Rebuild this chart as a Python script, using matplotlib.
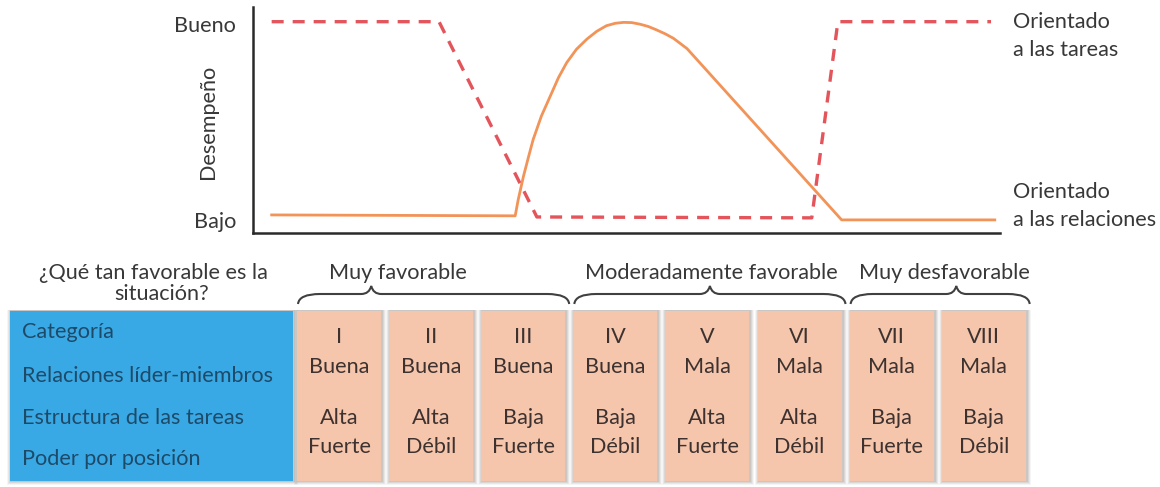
import matplotlib
matplotlib.use("Agg")
import matplotlib.pyplot as plt
from matplotlib.patches import Rectangle, PathPatch
from matplotlib.path import Path

plt.rcParams['font.family'] = ['Lato', 'DejaVu Sans']

# ---------------- data ----------------
# Performance curves (x: favorability position 0-100, y: performance 0-100)
task_x = [2.5, 24.9, 38.0, 74.8, 78.3, 98.8]
task_y = [93.5, 93.5, 7.1, 6.7, 93.5, 93.5]

rel_x = [2.5, 35.1, 35.5, 36.2, 36.9, 37.5, 38.6, 39.8, 40.9, 42.0, 43.3, 44.7,
         46.0, 47.3, 48.5, 49.6, 50.7, 51.8, 52.9, 54.0, 55.2, 56.3, 58.1, 78.8, 99.3]
rel_y = [8.0, 7.6, 14.7, 25.0, 33.9, 41.3, 51.7, 60.6, 68.8, 75.4, 81.3, 85.8,
         89.2, 91.7, 92.8, 93.2, 93.1, 92.4, 91.4, 89.9, 88.1, 86.1, 81.6, 5.8, 5.8]

perf_ticks = [5.8, 92.4]
perf_labels = ['Bajo', 'Bueno']

task_label = ['Orientado', 'a las tareas']
rel_label = ['Orientado', 'a las relaciones']

question = ['¿Qué tan favorable es la', 'situación?']
row_labels = ['Categoría', 'Relaciones líder-miembros',
              'Estructura de las tareas', 'Poder por posición']
categories = ['I', 'II', 'III', 'IV', 'V', 'VI', 'VII', 'VIII']
relaciones = ['Buena', 'Buena', 'Buena', 'Buena', 'Mala', 'Mala', 'Mala', 'Mala']
estructura = ['Alta', 'Alta', 'Baja', 'Baja', 'Alta', 'Alta', 'Baja', 'Baja']
poder = ['Fuerte', 'Débil', 'Fuerte', 'Débil', 'Fuerte', 'Débil', 'Fuerte', 'Débil']
groups = ['Muy favorable', 'Moderadamente favorable', 'Muy desfavorable']
group_cols = [(0, 2), (3, 5), (6, 7)]

# ---------------- styles ----------------
W, H = 1160, 487
TASK_C = '#E3545B'
REL_C = '#F29358'
BLUE = '#38A9E4'
PINK = '#F5C6AC'
TXT = '#383838'
BLUE_TXT = '#1E4A6A'
COL_TXT = '#3D3230'
FS = 15.6

fig = plt.figure(figsize=(W / 100, H / 100), dpi=100)
fig.patch.set_facecolor('white')

# ---------------- top chart ----------------
ax = fig.add_axes([253 / W, (H - 233) / H, 747 / W, 226 / H])
ax.set_xlim(0, 100)
ax.set_ylim(0, 100)
ax.set_facecolor('none')
for s in ['top', 'right']:
    ax.spines[s].set_visible(False)
for s in ['left', 'bottom']:
    ax.spines[s].set_linewidth(1.8)
    ax.spines[s].set_color('#2a2a2a')
ax.set_xticks([])
ax.set_yticks(perf_ticks)
ax.set_yticklabels(perf_labels, fontsize=FS, color=TXT)
ax.tick_params(axis='y', length=0, pad=12)
ax.set_ylabel('Desempeño', fontsize=FS, color=TXT)
ax.yaxis.set_label_coords(-0.047, 0.49)

ax.plot(task_x, task_y, color=TASK_C, lw=2.4, dashes=(3.6, 2.7), clip_on=False)
ax.plot(rel_x, rel_y, color=REL_C, lw=2.0, clip_on=False, solid_joinstyle='round')

ax.text(101.7, 93.5, task_label[0], fontsize=FS, color=TXT, va='center', ha='left', clip_on=False)
ax.text(101.7, 81.0, task_label[1], fontsize=FS, color=TXT, va='center', ha='left', clip_on=False)
ax.text(101.7, 18.2, rel_label[0], fontsize=FS, color=TXT, va='center', ha='left', clip_on=False)
ax.text(101.7, 5.8, rel_label[1], fontsize=FS, color=TXT, va='center', ha='left', clip_on=False)

# ---------------- bottom table ----------------
bx = fig.add_axes([0, 0, 1, 1])
bx.set_xlim(0, W)
bx.set_ylim(H, 0)
bx.axis('off')
bx.set_facecolor('none')

top, bot = 311, 481

def shadow(x, y, w, h):
    for d, a in [(4, 0.08), (3, 0.12), (2, 0.16), (1, 0.20)]:
        bx.add_patch(Rectangle((x - d + 1, y - 1), w + 2 * d, h + d + 1,
                               facecolor='#8c8480', alpha=a, edgecolor='none', zorder=1))

# blue label box
shadow(10, top, 283, bot - top)
bx.add_patch(Rectangle((10, top), 283, bot - top, facecolor=BLUE, edgecolor='none', zorder=2))
row_y = [332, 376, 418, 459]
for lab, yy in zip(row_labels, row_y):
    bx.text(22, yy, lab, fontsize=FS, color=BLUE_TXT, va='center', ha='left', zorder=3)

# question
bx.text(153, 273, question[0], fontsize=FS, color=TXT, va='center', ha='center')
bx.text(162, 294, question[1], fontsize=FS, color=TXT, va='center', ha='center')

col_x0, pitch, cw = 297, 92.1, 84
val_y = [337, 367, 418, 447]
for i in range(len(categories)):
    x = col_x0 + i * pitch
    shadow(x, top, cw, bot - top)
    bx.add_patch(Rectangle((x, top), cw, bot - top, facecolor=PINK, edgecolor='none', zorder=2))
    cx = x + cw / 2
    for txt, yy in zip([categories[i], relaciones[i], estructura[i], poder[i]], val_y):
        bx.text(cx, yy, txt, fontsize=FS, color=COL_TXT, va='center', ha='center', zorder=3)

def brace(x0, x1, xt, yl=294, ye=304, yt=286):
    verts = [(x0, ye), (x0 + 1, yl), (x0 + 22, yl),
             (xt - 10, yl),
             (xt - 2, yl), (xt, yt),
             (xt + 2, yl), (xt + 10, yl),
             (x1 - 22, yl),
             (x1 - 1, yl), (x1, ye)]
    codes = [Path.MOVETO, Path.CURVE3, Path.CURVE3,
             Path.LINETO,
             Path.CURVE3, Path.CURVE3,
             Path.CURVE3, Path.CURVE3,
             Path.LINETO,
             Path.CURVE3, Path.CURVE3]
    bx.add_patch(PathPatch(Path(verts, codes), facecolor='none', edgecolor='#404040', lw=1.5))

tip_frac = [0.27, 0.5, 0.59]
label_x = [398, 711, 944]
for g, (c0, c1), tf, lx in zip(groups, group_cols, tip_frac, label_x):
    x0 = col_x0 + c0 * pitch + 1
    x1 = col_x0 + c1 * pitch + cw + 4
    brace(x0, x1, x0 + tf * (x1 - x0))
    bx.text(lx, 273, g, fontsize=FS, color=TXT, va='center', ha='center')

fig.savefig('out.png', dpi=100, facecolor='white')
